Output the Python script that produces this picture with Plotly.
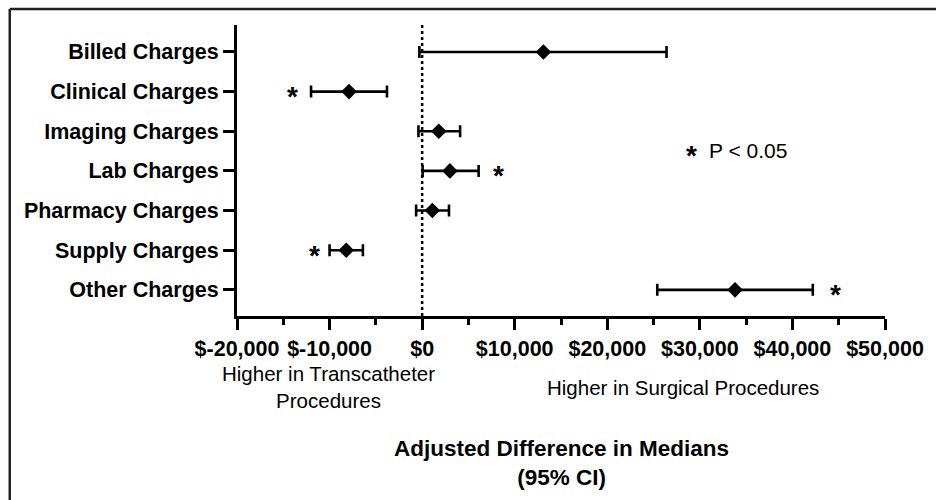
import plotly.graph_objects as go

# ---------------- data ----------------
categories = ["Billed Charges", "Clinical Charges", "Imaging Charges", "Lab Charges",
              "Pharmacy Charges", "Supply Charges", "Other Charges"]
estimate = [13100, -7900, 1800, 3000, 1100, -8200, 33800]
ci_lower = [-300, -12000, -400, 50, -650, -10000, 25400]
ci_upper = [26400, -3800, 4100, 6100, 2900, -6400, 42200]

star_categories = ["Clinical Charges", "Lab Charges", "Supply Charges", "Other Charges"]
star_x = [-14000, 8200, -11600, 44600]

tick_values = [-20000, -10000, 0, 10000, 20000, 30000, 40000, 50000]
tick_labels = ["$-20,000", "$-10,000", "$0", "$10,000", "$20,000", "$30,000", "$40,000", "$50,000"]

# ---------------- layout helpers ----------------
W, H = 936, 500
L, R, T, B = 237, 46, 25, 184
PW, PH = W - L - R, H - T - B


def px_x(px):
    return (px - L) / PW


def px_y(py):
    return 1 - (py - T) / PH


FONT = "Liberation Sans, Arial, sans-serif"

err_plus = [u - e for u, e in zip(ci_upper, estimate)]
err_minus = [e - l for e, l in zip(estimate, ci_lower)]

fig = go.Figure()
fig.add_trace(go.Scatter(
    x=estimate, y=categories, mode="markers",
    marker=dict(symbol="diamond", size=12, color="black"),
    error_x=dict(type="data", symmetric=False, array=err_plus, arrayminus=err_minus,
                 color="black", thickness=2.6, width=6),
    showlegend=False, hoverinfo="skip",
))

# significance stars next to the intervals
for sx, sc in zip(star_x, star_categories):
    fig.add_annotation(x=sx, y=sc, xref="x", yref="y", text="<b>*</b>", showarrow=False,
                       xanchor="center", yanchor="middle", yshift=-5,
                       font=dict(family=FONT, size=28, color="black"))

fig.update_layout(
    width=W, height=H,
    margin=dict(l=L, r=R, t=T, b=B, pad=0),
    paper_bgcolor="white", plot_bgcolor="white",
    font=dict(family=FONT, color="black"),
    xaxis=dict(
        range=[-20000, 50000], tickvals=tick_values, ticktext=tick_labels,
        showline=True, linecolor="black", linewidth=3, mirror=False,
        ticks="outside", ticklen=11, tickwidth=3, tickcolor="black",
        ticklabelstandoff=0,
        minor=dict(dtick=5000, tick0=0, ticks="outside", ticklen=6, tickwidth=3, tickcolor="black",
                   showgrid=False),
        tickfont=dict(family=FONT, size=21.5, color="black", weight="bold"),
        showgrid=False, zeroline=False,
    ),
    yaxis=dict(
        type="category", categoryorder="array", categoryarray=categories,
        range=[6.66, -0.68],
        showline=True, linecolor="black", linewidth=3,
        ticks="outside", ticklen=11, tickwidth=2.5, tickcolor="black",
        tickfont=dict(family=FONT, size=21.5, color="black", weight="bold"),
        showgrid=False, zeroline=False,
    ),
)

# dotted reference line at zero
fig.add_shape(type="line", xref="x", yref="paper", x0=0, x1=0, y0=0, y1=1,
              line=dict(color="black", width=2.5, dash="dot"), layer="below")

# outer frame (only top and left edges visible)
fig.add_shape(type="line", xref="paper", yref="paper",
              x0=px_x(8), x1=px_x(8), y0=px_y(520), y1=px_y(9),
              line=dict(color="#222222", width=2.5))
fig.add_shape(type="line", xref="paper", yref="paper",
              x0=px_x(8), x1=px_x(960), y0=px_y(9), y1=px_y(9),
              line=dict(color="#222222", width=2.5))

# significance key
fig.add_annotation(x=px_x(695), y=px_y(150), xref="paper", yref="paper",
                   text="<b>*</b>", showarrow=False, xanchor="center", yanchor="middle",
                   yshift=-5, font=dict(family=FONT, size=28, color="black"))
fig.add_annotation(x=px_x(711), y=px_y(150), xref="paper", yref="paper",
                   text="P < 0.05", showarrow=False, xanchor="left", yanchor="middle",
                   font=dict(family=FONT, size=21, color="black"))

# direction labels
fig.add_annotation(x=px_x(329), y=px_y(387), xref="paper", yref="paper",
                   text="Higher in Transcatheter<br>Procedures", showarrow=False,
                   xanchor="center", yanchor="middle", align="center",
                   font=dict(family=FONT, size=20.5, color="black"))
fig.add_annotation(x=px_x(686), y=px_y(387), xref="paper", yref="paper",
                   text="Higher in Surgical Procedures", showarrow=False,
                   xanchor="center", yanchor="middle",
                   font=dict(family=FONT, size=20.5, color="black"))

# axis title
fig.add_annotation(x=px_x(564), y=px_y(463), xref="paper", yref="paper",
                   text="<b>Adjusted Difference in Medians<br>(95% CI)</b>", showarrow=False,
                   xanchor="center", yanchor="middle", align="center",
                   font=dict(family=FONT, size=22.5, color="black"))

fig.write_html("out.html", config={"displayModeBar": False},
               post_script="document.body.style.margin='0';document.body.style.overflow='hidden';")
